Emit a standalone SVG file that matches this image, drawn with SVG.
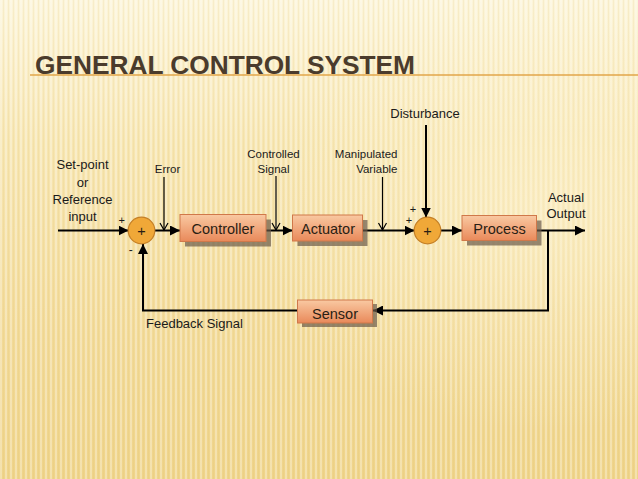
<svg xmlns="http://www.w3.org/2000/svg" width="638" height="479" viewBox="0 0 638 479">
<defs>
<linearGradient id="bg" x1="0" y1="0" x2="0" y2="1">
<stop offset="0" stop-color="#fcf5da"/>
<stop offset="0.3" stop-color="#f7e6b2"/>
<stop offset="0.7" stop-color="#f2da98"/>
<stop offset="1" stop-color="#efd48a"/>
</linearGradient>
<radialGradient id="glow" cx="0.85" cy="0.45" r="0.45">
<stop offset="0" stop-color="#fff6d8" stop-opacity="0.5"/>
<stop offset="1" stop-color="#fff6d8" stop-opacity="0"/>
</radialGradient>
<pattern id="stripes" width="5" height="10" patternUnits="userSpaceOnUse">
<rect x="0" y="0" width="2" height="10" fill="#ffffff" opacity="0.3"/>
<rect x="3" y="0" width="1" height="10" fill="#d9b86a" opacity="0.15"/>
</pattern>
<linearGradient id="boxg" x1="0" y1="0" x2="0" y2="1">
<stop offset="0" stop-color="#f9c9a2"/>
<stop offset="1" stop-color="#e9895a"/>
</linearGradient>
<marker id="ah" viewBox="0 0 10 10" refX="10" refY="5" markerWidth="5" markerHeight="5" orient="auto" markerUnits="strokeWidth">
<path d="M0,0 L10,5 L0,10 z" fill="#000"/>
</marker>
<style>
.lbl{font-family:"Liberation Sans",Arial,sans-serif;fill:#1a1a1a}
.box{fill:url(#boxg);stroke:#d0784a;stroke-width:1}
.shadow{fill:#6b5a48;opacity:0.7}
.btxt{font-family:"Liberation Sans",Arial,sans-serif;font-size:14.5px;fill:#2a1e14;text-anchor:middle}
.sum{fill:#f0a838;stroke:#c47f26;stroke-width:1.2}
.wire{fill:none;stroke:#000;stroke-width:2}
.arr{marker-end:url(#ah)}
.thin{fill:none;stroke:#000;stroke-width:1.2}
</style>
</defs>
<rect width="638" height="479" fill="url(#bg)"/>
<rect width="638" height="479" fill="url(#stripes)"/>
<rect width="638" height="479" fill="url(#glow)"/>
<line x1="30" y1="75" x2="638" y2="75" stroke="#e2a64a" stroke-width="1.5"/>
<text x="35" y="74" font-family="Liberation Sans,Arial,sans-serif" font-weight="bold" font-size="26" fill="#4a3b2c" textLength="380" lengthAdjust="spacingAndGlyphs">GENERAL CONTROL SYSTEM</text>

<g id="connectors">
<line class="wire arr" x1="58" y1="230.5" x2="128.5" y2="230.5"/>
<line class="wire arr" x1="155" y1="230.5" x2="180" y2="230.5"/>
<line class="wire arr" x1="266" y1="230.5" x2="292.5" y2="230.5"/>
<line class="wire arr" x1="363" y1="230.5" x2="414.5" y2="230.5"/>
<line class="wire arr" x1="441" y1="230.5" x2="462" y2="230.5"/>
<line class="wire arr" x1="537" y1="230.5" x2="585" y2="230.5"/>
<polyline class="wire arr" points="548,230.5 548,310.5 373,310.5"/>
<polyline class="wire arr" points="297.5,310.5 143,310.5 143,244"/>
<line class="wire arr" x1="426" y1="125" x2="426" y2="217.5"/>
<line class="thin" x1="164" y1="177" x2="164" y2="230"/>
<polyline class="thin" points="160,223 164,230 168,223"/>
<line class="thin" x1="276" y1="176" x2="276" y2="230"/>
<polyline class="thin" points="272,223 276,230 280,223"/>
<line class="thin" x1="382.5" y1="177" x2="382.5" y2="230"/>
<polyline class="thin" points="378.5,223 382.5,230 386.5,223"/>
</g>

<g id="sum1">
<circle class="sum" cx="141.5" cy="230.5" r="13.3"/>
<text class="btxt" x="141.5" y="236" font-size="16">+</text>
</g>
<g id="controller">
<rect class="shadow" x="185" y="219.5" width="86" height="27"/>
<rect class="box" x="180" y="214.5" width="86" height="27"/>
<text class="btxt" x="223" y="233.5">Controller</text>
</g>
<g id="actuator">
<rect class="shadow" x="297.5" y="220" width="70" height="26"/>
<rect class="box" x="292.5" y="215" width="70" height="26"/>
<text class="btxt" x="328" y="233.5">Actuator</text>
</g>
<g id="sum2">
<circle class="sum" cx="427.5" cy="230.5" r="13.3"/>
<text class="btxt" x="427.5" y="236" font-size="16">+</text>
</g>
<g id="process">
<rect class="shadow" x="467" y="220.5" width="74.5" height="25"/>
<rect class="box" x="462" y="215.5" width="74.5" height="25"/>
<text class="btxt" x="499.5" y="233.5">Process</text>
</g>
<g id="sensor">
<rect class="shadow" x="302" y="304" width="75" height="23"/>
<rect class="box" x="297.5" y="300" width="75" height="23"/>
<text class="btxt" x="335" y="319">Sensor</text>
</g>

<g id="labels">
<text class="lbl" font-size="13" text-anchor="middle" x="82.5" y="169">Set-point</text>
<text class="lbl" font-size="13" text-anchor="middle" x="82.5" y="186.5">or</text>
<text class="lbl" font-size="13" text-anchor="middle" x="82.5" y="204">Reference</text>
<text class="lbl" font-size="13" text-anchor="middle" x="82.5" y="220.5">input</text>
<text class="lbl" font-size="11.5" text-anchor="middle" x="167.5" y="172.5">Error</text>
<text class="lbl" font-size="11.5" text-anchor="middle" x="273.5" y="157.5">Controlled</text>
<text class="lbl" font-size="11.5" text-anchor="middle" x="273.5" y="172.5">Signal</text>
<text class="lbl" font-size="11.5" text-anchor="end" x="397.5" y="157.5">Manipulated</text>
<text class="lbl" font-size="11.5" text-anchor="end" x="397.5" y="172.5">Variable</text>
<text class="lbl" font-size="13" text-anchor="middle" x="425" y="118">Disturbance</text>
<text class="lbl" font-size="13" text-anchor="middle" x="566" y="202">Actual</text>
<text class="lbl" font-size="13" text-anchor="middle" x="566" y="218">Output</text>
<text class="lbl" font-size="13" x="146" y="328">Feedback Signal</text>
<text class="lbl" font-size="11" text-anchor="middle" x="121.7" y="224">+</text>
<text class="lbl" font-size="12" text-anchor="middle" x="130.7" y="254">-</text>
<text class="lbl" font-size="11" text-anchor="middle" x="413" y="213">+</text>
<text class="lbl" font-size="11" text-anchor="middle" x="409" y="224">+</text>
</g>
</svg>
